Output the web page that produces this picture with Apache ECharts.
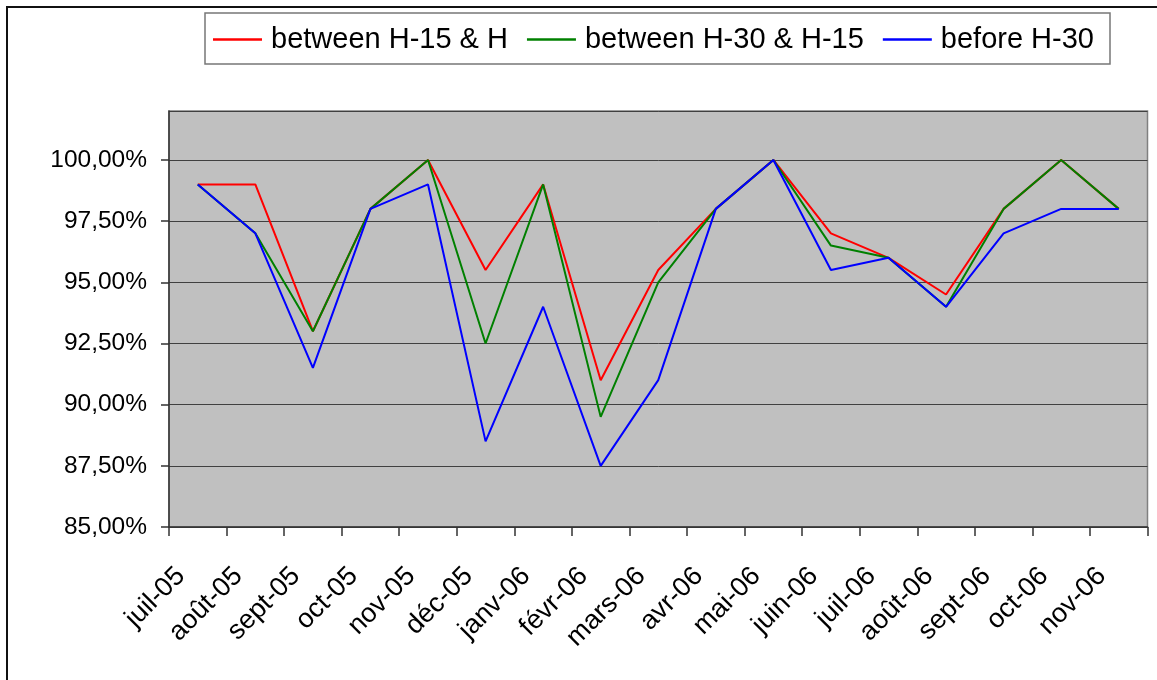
<!DOCTYPE html>
<html>
<head>
<meta charset="utf-8">
<script src="https://cdn.jsdelivr.net/npm/echarts@6/dist/echarts.min.js"></script>
<style>
html,body{margin:0;padding:0;background:#fff;}
#c{width:1157px;height:680px;}
</style>
</head>
<body>
<div id="c"></div>
<script>
const categories = ['juil-05','août-05','sept-05','oct-05','nov-05','déc-05','janv-06','févr-06','mars-06','avr-06','mai-06','juin-06','juil-06','août-06','sept-06','oct-06','nov-06'];
const seriesNames = ['between H-15 & H','between H-30 & H-15','before H-30'];
const h15 = [99, 99, 93, 98, 100, 95.5, 99, 91, 95.5, 98, 100, 97, 96, 94.5, 98, 100, 98];
const h30 = [99, 97, 93, 98, 100, 92.5, 99, 89.5, 95, 98, 100, 96.5, 96, 94, 98, 100, 98];
const before30 = [99, 97, 91.5, 98, 99, 88.5, 94, 87.5, 91, 98, 100, 95.5, 96, 94, 97, 98, 98];
const yTicks = [85, 87.5, 90, 92.5, 95, 97.5, 100];

const colors = ['#FF0000', '#008000', '#0000FF'];
const font = 'Liberation Sans, Arial, sans-serif';
const chart = echarts.init(document.getElementById('c'), null, {renderer: 'canvas'});
const mk = (name, data, i) => ({
  name, type: 'line', data, symbol: 'none', smooth: false,
  lineStyle: {color: colors[i], width: 2}, itemStyle: {color: colors[i]},
  emphasis: {disabled: true}, z: 2 + i
});
chart.setOption({
  animation: false,
  backgroundColor: '#ffffff',
  graphic: [
    {type: 'rect', shape: {x: 7, y: 7, width: 1200, height: 720}, style: {fill: 'none', stroke: '#111', lineWidth: 2}, z: 0},
    {type: 'rect', shape: {x: 205, y: 13, width: 905, height: 51}, style: {fill: '#fff', stroke: '#777', lineWidth: 1.5}, z: 0}
  ],
  legend: {
    left: 213, top: 25, padding: 0, itemGap: 19,
    icon: 'rect', itemWidth: 49, itemHeight: 2.5,
    textStyle: {fontFamily: font, fontSize: 29, color: '#000', padding: [3, 0, 0, 4]},
    data: seriesNames
  },
  grid: {
    left: 169, top: 111, right: 9.5, bottom: 153, containLabel: false,
    show: true, backgroundColor: '#C0C0C0', borderColor: '#808080', borderWidth: 1.5
  },
  xAxis: {
    type: 'category', data: categories, boundaryGap: true,
    axisLine: {lineStyle: {color: '#333', width: 1.5}},
    axisTick: {show: true, alignWithLabel: false, length: 9, lineStyle: {color: '#333', width: 1.5}},
    axisLabel: {interval: 0, rotate: 45, margin: 28, padding: [0, 24, 0, 0], fontFamily: font, fontSize: 27, color: '#000'},
    splitLine: {show: false}
  },
  yAxis: {
    type: 'value', min: 85, max: 102, interval: 2.5,
    axisLine: {show: true, lineStyle: {color: '#333', width: 1.5}},
    axisTick: {show: true, length: 8, lineStyle: {color: '#333', width: 1.5}},
    axisLabel: {
      margin: 22, fontFamily: font, fontSize: 24.5, color: '#000', showMaxLabel: false,
      formatter: v => (yTicks.indexOf(v) >= 0 ? v.toFixed(2).replace('.', ',') + '%' : '')
    },
    splitLine: {show: true, lineStyle: {color: '#404040', width: 1}}
  },
  series: [mk(seriesNames[0], h15, 0), mk(seriesNames[1], h30, 1), mk(seriesNames[2], before30, 2)]
});
</script>
</body>
</html>
